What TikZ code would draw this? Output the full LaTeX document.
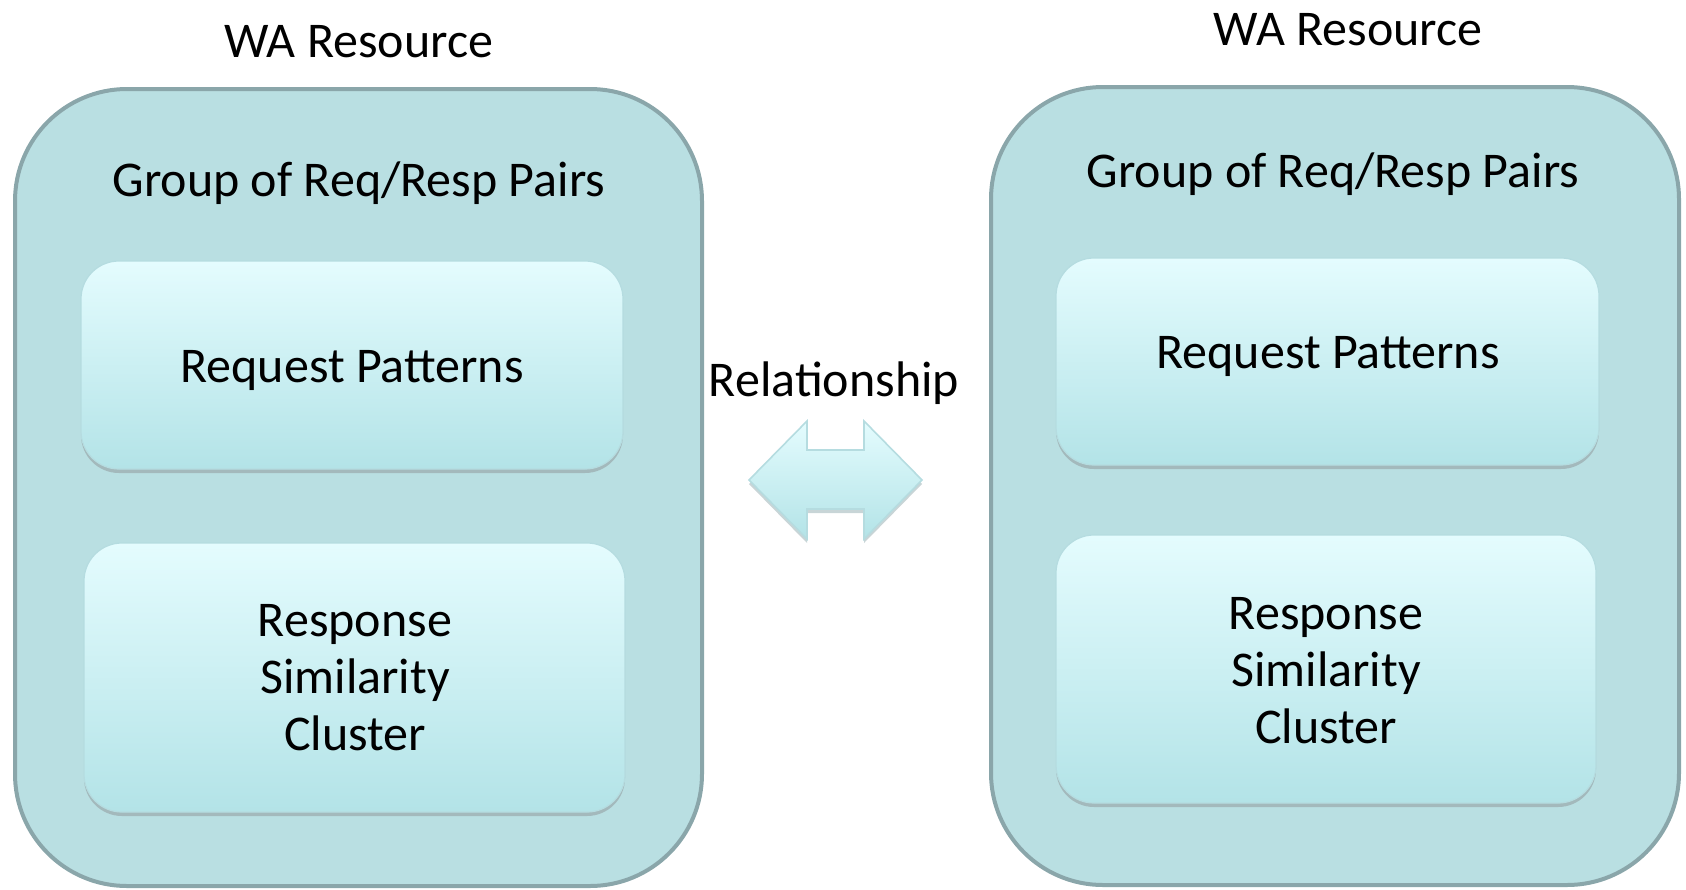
\documentclass[tikz,border=0pt]{standalone}
\usepackage{fontspec}
\setmainfont{Carlito}
\usepackage{tikz}
\usetikzlibrary{shadows}

\definecolor{outerfill}{HTML}{B9DFE2}
\definecolor{outerline}{HTML}{8AA6AA}
\definecolor{innertop}{HTML}{E4FCFE}
\definecolor{innerbot}{HTML}{B3E3E7}
\definecolor{innerline}{HTML}{B5DCE0}
\definecolor{shadowgray}{HTML}{A3B9BC}

\tikzset{
  resource/.style={draw=outerline, fill=outerfill, line width=2pt, rounded corners=56pt, inner sep=0pt},
  part/.style={draw=innerline, line width=0.6pt, top color=innertop, bottom color=innerbot, rounded corners=19pt, inner sep=0pt,
    drop shadow={shadow xshift=0pt, shadow yshift=-2pt, fill=shadowgray, opacity=1}},
  linkarrow/.style={draw=innerline, line width=0.8pt, top color=innertop, bottom color=innerbot,
    drop shadow={shadow xshift=0pt, shadow yshift=-2pt, fill=shadowgray, opacity=0.6}},
  txt/.style={align=center, inner sep=0pt, anchor=base}
}

\begin{document}
\begin{tikzpicture}[x=0.5pt, y=-0.5pt, every node/.style={font=\fontsize{25}{28.5}\selectfont}]
  \useasboundingbox (0,0) rectangle (1686,889);
     % left resource
     \node[resource, minimum width=343.5pt, minimum height=398.5pt](resL) at (358.5,487.5) {};
     \node[txt](titleL) at (359,57) {WA Resource};
     \node[txt](groupL) at (359,196) {Group of Req/Resp Pairs};
     \node[part, minimum width=271pt, minimum height=104pt](reqL) at (352,365) {};
     \node[txt](reqLtext) at (352,382) {Request Patterns};
     \node[part, minimum width=270.5pt, minimum height=134.5pt](respL) at (354.5,677.5) {};
     \node[txt](respLtext) at (355,750) {Response\\Similarity\\Cluster};
     % right resource
     \node[resource, minimum width=344pt, minimum height=399pt](resR) at (1335,486) {};
     \node[txt](titleR) at (1348,45) {WA Resource};
     \node[txt](groupR) at (1333,187) {Group of Req/Resp Pairs};
     \node[part, minimum width=271.5pt, minimum height=103.5pt](reqR) at (1327.5,361.5) {};
     \node[txt](reqRtext) at (1328,368) {Request Patterns};
     \node[part, minimum width=270pt, minimum height=134pt](respR) at (1326,669) {};
     \node[txt](respRtext) at (1326,743) {Response\\Similarity\\Cluster};
     % relationship
     \node[txt](rel) at (834,396) {Relationship};
     \path[linkarrow] (749,480) -- (807,421) -- (807,450) -- (864,450) -- (864,421) -- (922,480)
        -- (864,539) -- (864,509) -- (807,509) -- (807,539) -- cycle;
\end{tikzpicture}
\end{document}
